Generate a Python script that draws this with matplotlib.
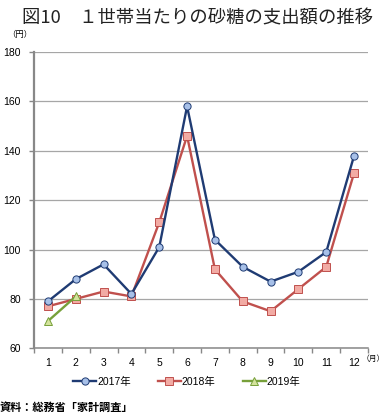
import matplotlib
matplotlib.use("Agg")
import matplotlib.pyplot as plt
import numpy as np

plt.rcParams['font.family'] = ['Liberation Sans', 'Noto Sans CJK JP', 'DejaVu Sans']

# データ
months = list(range(1, 13))
month_labels = [str(m) for m in months]
v2017 = [79, 88, 94, 82, 101, 158, 104, 93, 87, 91, 99, 138]
v2018 = [77, 80, 83, 81, 111, 146, 92, 79, 75, 84, 93, 131]
months_2019 = [1, 2]
v2019 = [71, 81]
y_ticks = [60, 80, 100, 120, 140, 160, 180]

fig = plt.figure(figsize=(3.85, 4.15), dpi=100)
ax = fig.add_axes([34 / 385, 1 - 348.3 / 415, 334 / 385, 296.3 / 415])

ax.plot(months, v2017, color='#1F3B73', lw=1.7, marker='o', ms=5.2,
        mfc='#A7C0E8', mec='#1F3B73', mew=0.7, label='2017年', zorder=4)
ax.plot(months, v2018, color='#C0504D', lw=1.7, marker='s', ms=5.2,
        mfc='#F2ABA4', mec='#C0504D', mew=0.7, label='2018年', zorder=3)
ax.plot(months_2019, v2019, color='#77A03A', lw=1.7, marker='^', ms=5.5,
        mfc='#D4E39C', mec='#77A03A', mew=0.7, label='2019年', zorder=5)

ax.set_xlim(0.5, 12.5)
ax.set_ylim(60, 180)
ax.set_yticks(y_ticks)
ax.set_xticks(months)
ax.set_xticklabels(month_labels)
ax.set_xticks(np.arange(0.5, 13, 1), minor=True)
ax.tick_params(axis='x', which='major', length=0, pad=7, labelsize=7.5)
ax.tick_params(axis='x', which='minor', length=3.5, color='#888888', width=1)
ax.tick_params(axis='y', length=3.5, color='#888888', width=1, pad=6, labelsize=7.5)
ax.grid(axis='y', color='#A6A6A6', lw=0.9)
ax.set_axisbelow(True)

for s in ['top', 'right']:
    ax.spines[s].set_visible(False)
ax.spines['left'].set_color('#888888')
ax.spines['left'].set_linewidth(1.6)
ax.spines['bottom'].set_color('#888888')
ax.spines['bottom'].set_linewidth(1.1)

fig.text(22 / 385, 1 - 18 / 415, '図10　１世帯当たりの砂糖の支出額の推移',
         fontsize=13.2, va='center', ha='left', color='#222222',
         family=['Noto Sans CJK JP'])
fig.text(7 / 385, 1 - 35 / 415, '（円）', fontsize=6, va='center', ha='left',
         family=['Noto Sans CJK JP'])
fig.text(385 / 385, 1 - 359 / 415, '（月）', fontsize=5.6, va='center', ha='right',
         family=['Noto Sans CJK JP'])

fig.legend(loc='center', bbox_to_anchor=(0.485, 1 - 382 / 415), ncol=3,
           frameon=False, handlelength=2.2, columnspacing=2.6,
           handletextpad=0.1,
           prop={'family': ['Liberation Sans', 'Noto Sans CJK JP'], 'size': 7.5})

fig.text(0, 1 - 407 / 415, '資料：総務省「家計調査」', fontsize=8, va='center',
         ha='left', fontweight='bold', family=['Noto Sans CJK JP'])

fig.savefig('out.png', dpi=100)
